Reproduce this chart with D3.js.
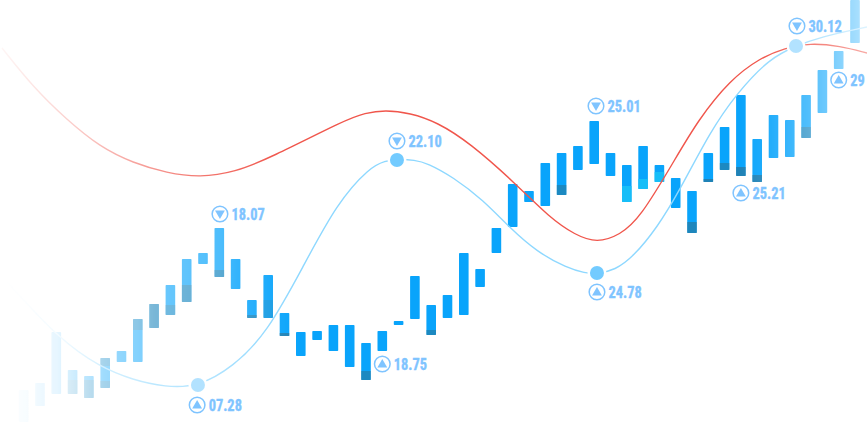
<!DOCTYPE html>
<html><head><meta charset="utf-8">
<script src="https://cdn.jsdelivr.net/npm/d3@7/dist/d3.min.js"></script>
<style>html,body{margin:0;padding:0;background:#fff;overflow:hidden}svg{display:block}</style>
</head><body><svg id="c" width="867" height="423"></svg>
<script>
const barTops=[3.3,4,9.1,5.3,4.7,6.5,7.2,10.4,11.9,13.8,16.4,17,19.5,16.4,12.3,14.8,11,9.1,9.2,9.8,9.8,8,9.2,10.2,14.7,11.8,12.8,17,15.4,19.5,23.9,23.2,26,27,27.7,30.2,27,25.8,27.7,25.8,24.5,23.2,27,29.6,32.8,28.4,30.8,30.3,32.8,35.3,37.2,42.3];
const barBottoms=[0.1,1.7,2.9,2.9,2.5,3.5,6.1,6.1,9.5,10.8,12.1,15.9,14.6,13.4,10.5,10.5,8.7,6.7,8.3,7.2,5.6,4.3,7.2,9.8,10.4,8.8,10.5,10.8,13.6,17,19.6,22.1,21.7,22.8,25.3,25.9,24.7,22.1,23.4,24.1,21.5,19,24.1,25.3,24.7,24.1,26.5,26.6,28.5,31,35.4,38];
const shadeDays=[3,4,5,5,7,8,9,10,12,14,15,16,21,25,33,41,42,43,44,45,48];
const shadeHigh=[4.3,4.3,6.5,4.2,10.4,11.9,11.8,13.8,15.3,10.8,12.3,9,5.2,9.3,23.8,20.1,24.4,26,25.6,24.8,29.6];
const shadeLow=[2.9,2.5,5.7,3.5,9.3,9.5,10.8,12.1,14.6,10.5,10.5,8.7,4.3,8.8,22.8,19,24.1,25.3,24.7,24.1,28.5];
const shadeAlpha=[0.4,0.45,0.4,0.4,0.4,0.55,0.4,0.5,0.5,0.5,0.2,0.6,0.5,0.5,0.5,0.55,0.6,0.5,0.6,0.6,0.5];
const glowDays=[37,38,39];
const glowHigh=[23.7,24.4,25.1];
const glowLow=[22.1,23.4,24.1];
const redDays=[-1.33,0.57,2.66,4.68,6.71,8.79,10.82,12.96,15.11,19.71,20.94,22.17,23.7,25.35,27.38,30.14,32.29,33.83,35.17,36.58,37.81,39.83,41.37,43.33,45.17,46.7,48.24,50.08,51.74];
const redValues=[37.5,33.6,30.3,27.6,26,25,24.55,25.1,26.5,30.3,31,31.3,31,30.1,28,24,20.5,18.8,18,18.8,20.5,26,30.3,34.3,36.5,37.5,38,37.7,37];
const blueDays=[-1.02,2.23,4.68,6.71,8.66,10.69,12.84,14.93,17.13,19.22,21.25,22.17,22.9,24,24.74,26.34,28.18,29.83,31.49,33.33,34.43,35.17,36.28,37.38,38.85,40.26,42.1,43.76,45.78,47.38,48.85,51.74];
const blueValues=[14.1,8.3,5.6,4.3,3.6,3.6,5.6,9,15.6,22,25.6,26.2,26.4,26.3,26,24.6,22.3,19.5,17.1,15.5,15,14.9,15.3,16.6,19.5,23.3,29.1,33,36.5,37.7,38.6,39.6];
const dotDays=[10.69,22.9,35.17,47.38];
const dotValues=[3.8,26.3,15,37.7];
const dotAlpha=[0.55,1,1,0.55];
const labelTexts=["07.28","18.07","18.75","22.10","25.01","24.78","25.21","30.12","29"];
const labelDays=[10.64,12.04,22,22.9,35.11,35.17,44,47.44,50];
const labelValues=[1.8,20.9,5.9,28.2,31.7,13.1,23,39.7,34.3];
const labelUp=[true,false,true,false,false,true,true,false,true];
const fadePositions=[0,27,40,57,74,90,106,138,155,187,220,236,268,300,741,773,806,822,839,855,867];
const fadeAlphas=[0,0.03,0.07,0.1,0.2,0.3,0.4,0.5,0.6,0.65,0.72,0.82,0.92,1,1,0.88,0.72,0.62,0.5,0.38,0.3];
const redFadePositions=[0,50,100,150,200,280,760,867];
const redFadeAlphas=[0.05,0.2,0.4,0.6,0.8,1,1,0.5];

const svg=d3.select("#c"),W=867,H=423;
const x=d3.scaleLinear().domain([0,51]).range([23.7,855]);
const y=d3.scaleLinear().domain([0,42.3]).range([H,0]);
const bw=9.6;
const defs=svg.append("defs");
function fade(id,pos,al){
 const g=defs.append("linearGradient").attr("id",id+"g").attr("gradientUnits","userSpaceOnUse")
  .attr("x1",0).attr("x2",W).attr("y1",0).attr("y2",0);
 pos.forEach((p,i)=>g.append("stop").attr("offset",p/W).attr("stop-color","#fff").attr("stop-opacity",al[i]));
 defs.append("mask").attr("id",id).attr("maskUnits","userSpaceOnUse").attr("x",0).attr("y",0).attr("width",W).attr("height",H)
  .append("rect").attr("width",W).attr("height",H).attr("fill",`url(#${id}g)`);
}
fade("m",fadePositions,fadeAlphas);
fade("mr",redFadePositions,redFadeAlphas);
const line=d3.line().x(d=>x(d[0])).y(d=>y(d[1])).curve(d3.curveBasis);
const plot=svg.append("g").attr("mask","url(#m)");
plot.append("g").selectAll("rect").data(barTops).join("rect")
 .attr("x",(d,i)=>x(i)-bw/2).attr("width",bw).attr("y",d=>y(d)).attr("height",(d,i)=>y(barBottoms[i])-y(d))
 .attr("rx",0.8).attr("fill","#09a4fb");
plot.append("g").selectAll("rect").data(shadeDays).join("rect")
 .attr("x",d=>x(d)-bw/2).attr("width",bw).attr("y",(d,i)=>y(shadeHigh[i])).attr("height",(d,i)=>y(shadeLow[i])-y(shadeHigh[i]))
 .attr("fill","#2f6d88").attr("opacity",(d,i)=>shadeAlpha[i]);
plot.append("g").selectAll("rect").data(glowDays).join("rect")
 .attr("x",d=>x(d)-bw/2).attr("width",bw).attr("y",(d,i)=>y(glowHigh[i])).attr("height",(d,i)=>y(glowLow[i])-y(glowHigh[i]))
 .attr("fill","#1cc4f8").attr("opacity",0.8);
svg.append("path").attr("mask","url(#mr)").attr("d",line(redDays.map((d,i)=>[d,redValues[i]]))).attr("fill","none").attr("stroke","#f0564c").attr("stroke-width",1.4);
plot.append("path").attr("d",line(blueDays.map((d,i)=>[d,blueValues[i]]))).attr("fill","none").attr("stroke","#8ed8ff").attr("stroke-width",1.4);
const dots=svg.append("g");
dots.selectAll("circle.h").data(dotDays).join("circle").attr("class","h")
 .attr("cx",d=>x(d)).attr("cy",(d,i)=>y(dotValues[i])).attr("r",9.5).attr("fill","#fff");
dots.selectAll("circle.d").data(dotDays).join("circle").attr("class","d")
 .attr("cx",d=>x(d)).attr("cy",(d,i)=>y(dotValues[i])).attr("r",7).attr("fill","#73cbff").attr("opacity",(d,i)=>dotAlpha[i]);
const c="#7fc4ff";
const a=svg.append("g").selectAll("g").data(labelTexts).join("g")
 .attr("transform",(d,i)=>`translate(${x(labelDays[i])},${y(labelValues[i])})`);
a.append("circle").attr("r",7.8).attr("fill","#fff").attr("stroke",c).attr("stroke-width",1.5);
a.append("path").attr("d",d3.symbol(d3.symbolTriangle,42)).attr("fill",c)
 .attr("transform",(d,i)=>labelUp[i]?"translate(0,0.6)":"translate(0,-0.6) rotate(180)");
a.append("text").text(d=>d).attr("transform","translate(11.5,5.5) scale(0.9,1)").attr("fill",c).attr("stroke",c).attr("stroke-width",0.35)
 .attr("font-family","'Liberation Sans Narrow','Roboto Condensed',Roboto,sans-serif").attr("font-weight",700).attr("font-size",16);
</script></body></html>
